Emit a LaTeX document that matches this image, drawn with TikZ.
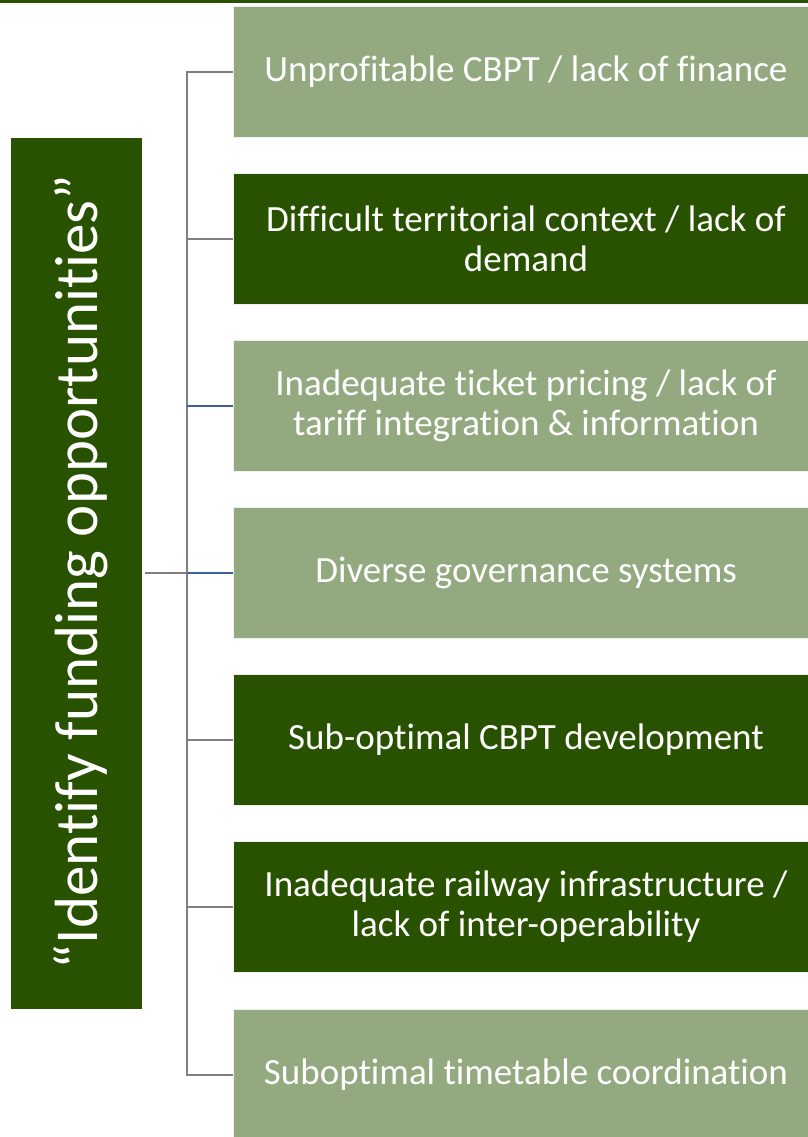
\documentclass[tikz,border=0pt]{standalone}
\usepackage{fontspec}
\setmainfont{Carlito}[Ligatures={NoCommon}]
\definecolor{darkg}{RGB}{41,82,0}
\definecolor{lightg}{RGB}{147,169,128}
\definecolor{conn}{RGB}{128,128,128}
\definecolor{blueconn}{RGB}{59,95,160}
\begin{document}
\begin{tikzpicture}[x=1bp,y=-1bp,
  box/.style={draw=white!85!lightg,line width=0.6bp,minimum width=586bp,minimum height=131bp,
    align=center,text=white,font=\fontsize{37bp}{40bp}\selectfont,inner sep=0pt},
  lbox/.style={box,fill=lightg},
  dbox/.style={box,fill=darkg},
  connline/.style={draw=conn,line width=2bp},
  blueline/.style={draw=blueconn,line width=2bp}]
\useasboundingbox (0,0) rectangle (808,1137);
\fill[darkg] (0,0) rectangle (808,3);
\node[lbox] (b1) at (526,71.5) {Unprofitable CBPT / lack of finance};
\node[dbox] (b2) at (526,238.5) {Difficult territorial context / lack of\\demand};
\node[lbox] (b3) at (526,405.5) {Inadequate ticket pricing / lack of\\tariff integration \& information};
\node[lbox] (b4) at (526,573) {Diverse governance systems};
\node[dbox] (b5) at (526,740) {Sub-optimal CBPT development};
\node[dbox] (b6) at (526,907) {Inadequate railway infrastructure /\\lack of inter-operability};
\node[lbox] (b7) at (526,1075) {Suboptimal timetable coordination};
\node[fill=darkg,minimum width=131bp,minimum height=871bp,inner sep=0pt] (L) at (76.5,573.5) {};
\node[rotate=90,anchor=base,text=white,font=\fontsize{61bp}{66bp}\selectfont,inner sep=0pt] (Lt) at (97,572) {“Identify funding opportunities”};
\foreach \i/\y in {1/71.5,2/238.5,3/405.5,4/573,5/740,6/907,7/1075}
  \coordinate (t\i) at (187,\y);
\coordinate (s) at (145,573);
\draw[connline] (b1.west) -- (t1) -- (t7) -- (b7.west);
\draw[connline] (t2) -- (b2.west);
\draw[blueline] (t3) -- (b3.west);
\draw[blueline] (t4) -- (b4.west);
\draw[connline] (t5) -- (b5.west);
\draw[connline] (t6) -- (b6.west);
\draw[connline] (s) -- (t4);
\end{tikzpicture}
\end{document}
